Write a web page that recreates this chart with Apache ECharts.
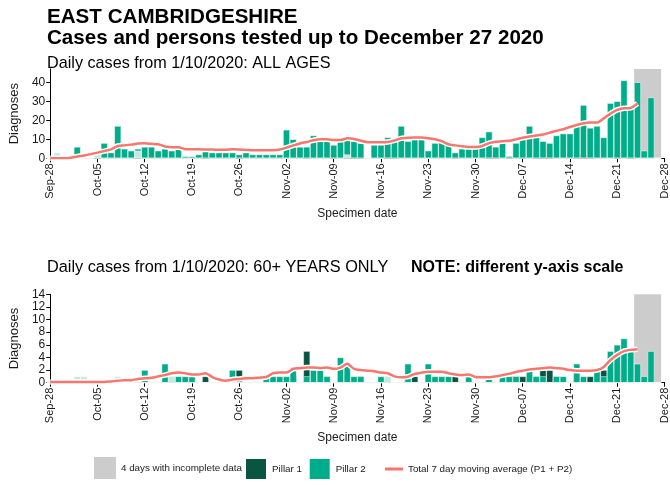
<!DOCTYPE html>
<html><head><meta charset="utf-8">
<script src="https://cdn.jsdelivr.net/npm/echarts@6/dist/echarts.min.js"></script>
<style>html,body{margin:0;padding:0;background:#fff}#c{width:670px;height:485px}</style>
</head><body><div id="c"></div>
<script>
// Day index 0 = Sep-28 ... 90 = Dec-27
const xTickLabels = ['Sep-28','Oct-05','Oct-12','Oct-19','Oct-26','Nov-02','Nov-09','Nov-16','Nov-23','Nov-30','Dec-07','Dec-14','Dec-21','Dec-28'];
const topYTicks = [0,10,20,30,40];

// ALL AGES
const pillar1All = [0,0,0,0,0,0,0,0,0,0, 0,0,0,0,0,0,0,0,0,0, 0,0,0,1,0,0,0,0,1,0, 0,0,0,0,0,0,0,0,4,0, 0,0,2,0,0,1,1,0,0,0, 2,6,0,0,0,0,0,0,0,0, 1,0,0,0,0,2,2,0,1,0, 2,0,2,2,5,0,0,0,2,2, 1,0,0,0,4,0,1,0,0,0, 0];
const pillar2All = [0,0,0,0,6,0,0,1,8,3, 17,5,4,5,6,6,4,5,4,5, 1,1,2,6,3,3,3,3,2,3, 2,2,2,2,2,15,10,6,6,12, 11,10,7,10,10,9,8,0,7,7, 11,10,17,9,10,10,4,8,10,9, 3,5,5,5,11,14,6,8,1,8, 11,17,13,9,8,12,13,13,17,28, 16,17,11,29,30,41,26,40,4,32, 0];
const faintAll = [0,3,0,0,0,0,0,3,0,0, 0,0,0,4,0,0,0,0,0,0, 0,0,0,0,0,0,0,0,0,0, 0,0,0,0,0,0,0,0,0,0, 0,0,0,0,2,0,0,0,0,0, 0,0,0,0,0,0,0,0,0,0, 0,0,0,0,0,0,0,0,0,0, 0,0,0,0,0,0,0,0,0,0, 0,0,0,0,0,0,0,0,0,0, 0];
const avgAll = [0,0,0,0.3,1,1.5,2.2,3,3.8,4.7, 6.5,6.8,7.2,7.8,7.9,7.6,7.4,6.2,5.8,5.8, 4.8,4.7,4.7,4.6,4.6,4.5,4.5,4.7,4.6,4.4, 4.2,4.2,4.3,4.3,4.6,5.6,6.8,7.8,8.6,9.5, 10,10,9.6,9.6,10.5,10.2,9.2,8.5,8.4,8.4, 8.6,9.4,10.5,10.8,10.9,10.9,10.6,10,9,7.4, 6.8,6.3,6,6,6.5,8,8.7,9,9.2,10, 10.8,11.5,12,12.5,13.5,14.5,15.3,16.5,17.5,18.5, 18.8,18.8,21,23.5,25.5,26.3,26.5,28.8];

// 60+ YEARS
const pillar160 = [0,0,0,0,0,0,0,0,0,0, 0,0,0,0,0,0,0,0,0,0, 0,0,0,1,0,0,0,0,2,0, 0,0,0,0,0,0,1,0,5,0, 0,1,0,0,1,0,1,0,0,0, 0,0,0,1,1,0,0,0,0,0, 1,0,0,0,0,1,0,0,1,1, 1,1,1,2,2,1,0,0,1,0, 1,1,2,2,3,2,0,0,1,0, 0];
const pillar260 = [0,0,0,0,0,0,0,0,0,0, 0,0,0,0,2,0,0,3,1,1, 1,1,0,0,0,0,0,2,0,0, 0,0,1,1,1,1,2,0,1,2, 2,1,0,4,3,1,1,0,0,1, 1,0,0,3,0,0,3,1,1,1, 0,0,1,0,0,1,0,1,1,1, 0,2,1,1,0,1,1,0,3,1, 0,2,1,5,6,7,5,3,1,5, 0];
const faint60 = [0,0,0,0,1,1,0,0,0,0, 1,0,0,1,0,0,0,0,1,0, 0,0,0,0,0,0,0,0,0,0, 0,0,0,0,0,0,0,0,0,0, 0,0,0,0,0,0,0,0,0,0, 1,0,0,0,0,0,0,0,0,0, 0,0,0,0,0,0,0,0,0,0, 0,0,0,0,0,0,0,0,0,0, 0,0,0,0,0,0,0,0,0,0, 0];
const avg60 = [0.1,0.1,0.1,0.1,0.1,0.1,0.1,0.1,0.1,0.2, 0.3,0.4,0.4,0.6,0.7,0.8,1.0,1.2,1.5,1.6, 1.5,1.3,1.3,1.5,0.9,0.5,0.3,0.5,0.6,0.7, 0.7,0.8,0.9,1.5,1.6,1.6,2.2,2.3,2.4,2.4, 2.3,2.4,2.2,2.4,3.0,2.2,2.0,1.9,1.8,1.6, 1.5,1.0,0.85,0.95,1.4,1.6,1.75,1.75,1.75,1.5, 1.3,1.2,1.3,0.9,0.85,0.85,1.0,1.2,1.4,1.7, 1.9,2.1,2.2,2.3,2.4,2.3,2.2,2.0,1.9,1.9, 1.9,2.0,2.5,3.6,4.4,5.0,5.2,5.3];

const incompleteRange = [86.5, 90.5];

const C_GRAY = '#cccccc', C_P1 = '#0a5443', C_P2 = '#00ad8a', C_FAINT = '#bfeadd', C_LINE = '#f8766d';
const FONT = '"Liberation Sans", Arial, sans-serif';
const pairs = arr => arr.map((v, i) => [i, v]);

function xAxis(gi) {
  return {
    gridIndex: gi, type: 'value', min: 0, max: 91, interval: 7,
    axisLine: {show: true, onZero: false, lineStyle: {color: '#000', width: 1}},
    axisTick: {show: true, length: 4, lineStyle: {color: '#000'}},
    splitLine: {show: false},
    axisLabel: {rotate: 90, margin: 5, fontSize: 11, color: '#1a1a1a', fontFamily: FONT,
      formatter: v => xTickLabels[Math.round(v / 7)] || ''},
    name: 'Specimen date', nameLocation: 'middle', nameGap: 49,
    nameTextStyle: {fontSize: 12, color: '#1a1a1a', fontFamily: FONT}
  };
}
function yAxis(gi, max, interval, ticks) {
  const a = {
    gridIndex: gi, type: 'value', min: 0, max: max, interval: interval,
    axisLine: {show: true, lineStyle: {color: '#000', width: 1}},
    axisTick: {show: true, length: 4, lineStyle: {color: '#000'}},
    splitLine: {show: false},
    axisLabel: {margin: 5, fontSize: 12, color: '#1a1a1a', fontFamily: FONT},
    name: 'Diagnoses', nameLocation: 'middle', nameGap: 29, nameRotate: 90,
    nameTextStyle: {fontSize: 13, color: '#1a1a1a', fontFamily: FONT}
  };
  if (ticks) { a.axisTick.customValues = ticks; a.axisLabel.customValues = ticks; }
  return a;
}
function barSeries(name, data, color, gi, stack) {
  return {name: name, type: 'bar', stack: stack, xAxisIndex: gi, yAxisIndex: gi,
    data: pairs(data), barWidth: 6.8, z: 2,
    itemStyle: {color: color, borderColor: '#fff', borderWidth: 0.5}, emphasis: {disabled: true}};
}
function grayDummy(gi, stack) {
  return {name: '4 days with incomplete data', type: 'bar', stack: stack, xAxisIndex: gi, yAxisIndex: gi,
    data: [], itemStyle: {color: C_GRAY},
    markArea: {silent: true, z: 1, itemStyle: {color: C_GRAY, opacity: 1},
      data: [[{xAxis: incompleteRange[0]}, {xAxis: incompleteRange[1]}]]}};
}
function lineSeries(data, gi) {
  return [
    {type: 'line', xAxisIndex: gi, yAxisIndex: gi, data: pairs(data), showSymbol: false, smooth: 0.2, z: 5,
      lineStyle: {color: '#ffffff', width: 5.5}, itemStyle: {color: '#fff'}, silent: true},
    {name: 'Total 7 day moving average (P1 + P2)', type: 'line', xAxisIndex: gi, yAxisIndex: gi, data: pairs(data),
      showSymbol: false, smooth: 0.2, z: 6, lineStyle: {color: C_LINE, width: 2.5}, itemStyle: {color: C_LINE}, silent: true}
  ];
}
function legendAt(name, left, top, w, icon) {
  return {data: [{name: name, icon: icon}], left: left, top: top, padding: 5,
    itemWidth: w, itemHeight: 22, selectedMode: false,
    textStyle: {fontSize: 9.8, color: '#1a1a1a', fontFamily: FONT}};
}

const chart = echarts.init(document.getElementById('c'), null, {renderer: 'canvas'});
chart.setOption({
  animation: false,
  backgroundColor: '#fff',
  textStyle: {fontFamily: FONT},
  title: [
    {text: 'EAST CAMBRIDGESHIRE\nCases and persons tested up to December 27 2020', left: 42, top: 2,
      textStyle: {fontSize: 20.6, fontWeight: 'bold', color: '#000', lineHeight: 21, fontFamily: FONT}},
    {text: 'Daily cases from 1/10/2020: ALL AGES', left: 42, top: 51,
      textStyle: {fontSize: 16.2, fontWeight: 'normal', color: '#000', fontFamily: FONT}},
    {text: 'Daily cases from 1/10/2020: 60+ YEARS ONLY', left: 42, top: 255,
      textStyle: {fontSize: 16.3, fontWeight: 'normal', color: '#000', fontFamily: FONT}},
    {text: 'NOTE: different y-axis scale', left: 406, top: 255,
      textStyle: {fontSize: 16, fontWeight: 'bold', color: '#000', fontFamily: FONT}}
  ],
  grid: [
    {left: 48.5, right: 1.5, top: 69, bottom: 326.7},
    {left: 48.5, right: 1.5, top: 294.3, bottom: 102.3}
  ],
  xAxis: [xAxis(0), xAxis(1)],
  yAxis: [yAxis(0, 47, 10, topYTicks), yAxis(1, 14, 2, null)],
  legend: [
    legendAt('4 days with incomplete data', 89, 452, 22, 'rect'),
    legendAt('Pillar 1', 239, 452, 22, 'rect'),
    legendAt('Pillar 2', 302.7, 452, 22, 'rect'),
    legendAt('Total 7 day moving average (P1 + P2)', 380, 459, 18, 'path://M0,0H18V3H0Z')
  ],
  series: [
    grayDummy(0, 'a'),
    barSeries('Pillar 1', pillar1All, C_P1, 0, 'a'),
    barSeries('Pillar 2', pillar2All, C_P2, 0, 'a'),
    barSeries('faint', faintAll, C_FAINT, 0, 'a'),
    ...lineSeries(avgAll, 0),
    grayDummy(1, 'b'),
    barSeries('Pillar 1', pillar160, C_P1, 1, 'b'),
    barSeries('Pillar 2', pillar260, C_P2, 1, 'b'),
    barSeries('faint', faint60, C_FAINT, 1, 'b'),
    ...lineSeries(avg60, 1)
  ]
});
</script></body></html>
